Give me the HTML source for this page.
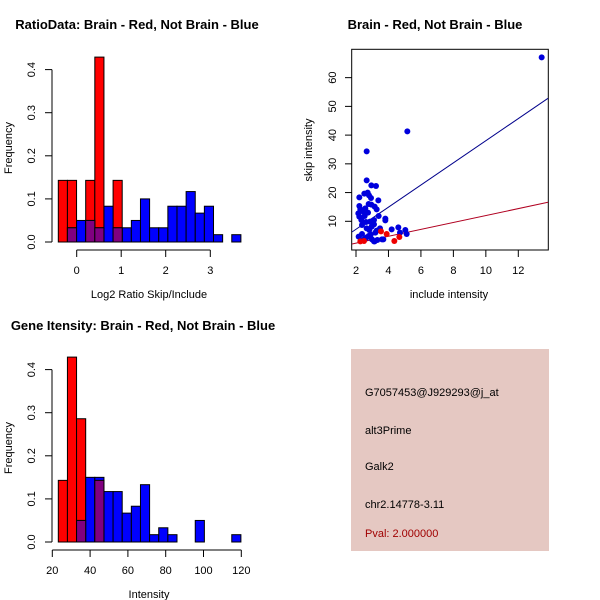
<!DOCTYPE html>
<html><head><meta charset="utf-8"><style>
body{margin:0;background:#fff}
svg{display:block}
text{font-family:"Liberation Sans",sans-serif;font-size:11px;fill:#000}
.t{font-weight:bold;font-size:13px}
</style></head><body>
<svg id="s" width="600" height="600" viewBox="0 0 600 600" xmlns="http://www.w3.org/2000/svg">
<rect width="600" height="600" fill="#fff"/>
<text class="t" x="137" y="29" text-anchor="middle">RatioData: Brain - Red, Not Brain - Blue</text>
<text class="t" x="435" y="29" text-anchor="middle">Brain - Red, Not Brain - Blue</text>
<text class="t" x="143" y="330" text-anchor="middle">Gene Itensity: Brain - Red, Not Brain - Blue</text>
<text x="149" y="298" text-anchor="middle">Log2 Ratio Skip/Include</text>
<text x="149" y="598" text-anchor="middle">Intensity</text>
<text x="449" y="298" text-anchor="middle">include intensity</text>
<text transform="translate(12,148) rotate(-90)" text-anchor="middle">Frequency</text>
<text transform="translate(12,448) rotate(-90)" text-anchor="middle">Frequency</text>
<text transform="translate(312,150) rotate(-90)" text-anchor="middle">skip intensity</text>
<rect x="351" y="349" width="198" height="202" fill="#e5c8c2"/>
<text x="365" y="396">G7057453@J929293@j_at</text>
<text x="365" y="434">alt3Prime</text>
<text x="365" y="470">Galk2</text>
<text x="365" y="508">chr2.14778-3.11</text>
<text x="365" y="537" fill="#a00000" style="fill:#a00000">Pval: 2.000000</text>
</svg>
<script>
const s=document.getElementById('s'),NS='http://www.w3.org/2000/svg';
function el(t,a,txt){const e=document.createElementNS(NS,t);for(const k in a)e.setAttribute(k,a[k]);if(txt!==undefined)e.textContent=txt;s.appendChild(e);return e;}
function hist(oy,red,blue,xt){
 const base=oy+242,u=431,x0=58.3,w=9.13;
 const draw=(arr,c)=>arr.forEach((h,k)=>{if(h>0)el('rect',{x:x0+k*w,y:base-h*u,width:w,height:h*u,fill:c,stroke:'#000','stroke-width':1});});
 draw(red,'#ff0000');draw(blue,'#0000ff');
 red.forEach((h,k)=>{const b=blue[k]||0,m=Math.min(h,b);if(m>0)el('rect',{x:x0+k*w,y:base-m*u,width:w,height:m*u,fill:'#800080',stroke:'#000','stroke-width':1});});
 el('line',{x1:52,y1:base,x2:52,y2:base-0.4*u,stroke:'#000'});
 for(let i=0;i<=4;i++){const y=base-i*0.1*u;el('line',{x1:45,y1:y,x2:52,y2:y,stroke:'#000'});
  el('text',{transform:`translate(35,${y}) rotate(-90)`,'text-anchor':'middle'},(i/10).toFixed(1));}
 const ax=oy+250;el('line',{x1:xt[0][0],y1:ax,x2:xt[xt.length-1][0],y2:ax,stroke:'#000'});
 xt.forEach(([x,l])=>{el('line',{x1:x,y1:ax,x2:x,y2:ax+7,stroke:'#000'});el('text',{x:x,y:ax+24,'text-anchor':'middle'},l);});
}
hist(0,[.143,.143,0,.143,.429,0,.143],[0,.033,.05,.05,.033,.083,.033,.033,.05,.1,.033,.033,.083,.083,.117,.067,.083,.017,0,.017],
 [[76.7,'0'],[121.2,'1'],[165.7,'2'],[210.3,'3']]);
hist(300,[.143,.429,.286,0,.143],[0,0,.05,.15,.15,.117,.117,.067,.083,.133,.017,.033,.017,0,0,.05,0,0,0,.017],
 [[52.3,'20'],[90.1,'40'],[127.9,'60'],[165.7,'80'],[203.5,'100'],[241.3,'120']]);
el('rect',{x:351.7,y:49.3,width:196.6,height:200.7,fill:'none',stroke:'#000'});
for(let i=0;i<6;i++){const x=356+i*2*16.23;el('line',{x1:x,y1:250,x2:x,y2:257,stroke:'#000'});el('text',{x:x,y:274,'text-anchor':'middle'},String(2+2*i));}
for(let i=1;i<=6;i++){const y=221.3-(i-1)*10*2.873;el('line',{x1:345,y1:y,x2:351.7,y2:y,stroke:'#000'});el('text',{transform:`translate(336,${y}) rotate(-90)`,'text-anchor':'middle'},String(i*10));}
el('line',{x1:352,y1:232,x2:548,y2:98.3,stroke:'#00008b'});
el('line',{x1:352,y1:244,x2:548,y2:202.3,stroke:'#b00020'});
const B=[[725,52],[322,274],[200,334],[200,421],[214,436],[228,438],[178,472],[235,481],[193,461],[203,458],[207,466],[213,474],[178,498],[181,508],[175,520],[178,530],[184,540],[194,528],[204,518],[206,492],[214,494],[224,500],[230,508],[236,528],[256,536],[256,541],[198,546],[210,545],[222,553],[222,540],[200,565],[208,570],[226,578],[230,572],[240,565],[176,590],[186,582],[196,596],[206,588],[216,598],[222,604],[232,600],[246,598],[250,598],[275,568],[295,562],[300,578],[316,570],[320,582],[188,600],[200,592],[212,584],[224,604],[190,515],[196,505],[186,555],[215,560]];
const R=[[243,574],[260,582],[283,603],[298,591],[181,604],[192,603]];
B.forEach(([x,y])=>el('circle',{cx:x/3+300,cy:y/3+40,r:3,fill:'#0000dd'}));
R.forEach(([x,y])=>el('circle',{cx:x/3+300,cy:y/3+40,r:3,fill:'#ee0000'}));
</script>
</body></html>
